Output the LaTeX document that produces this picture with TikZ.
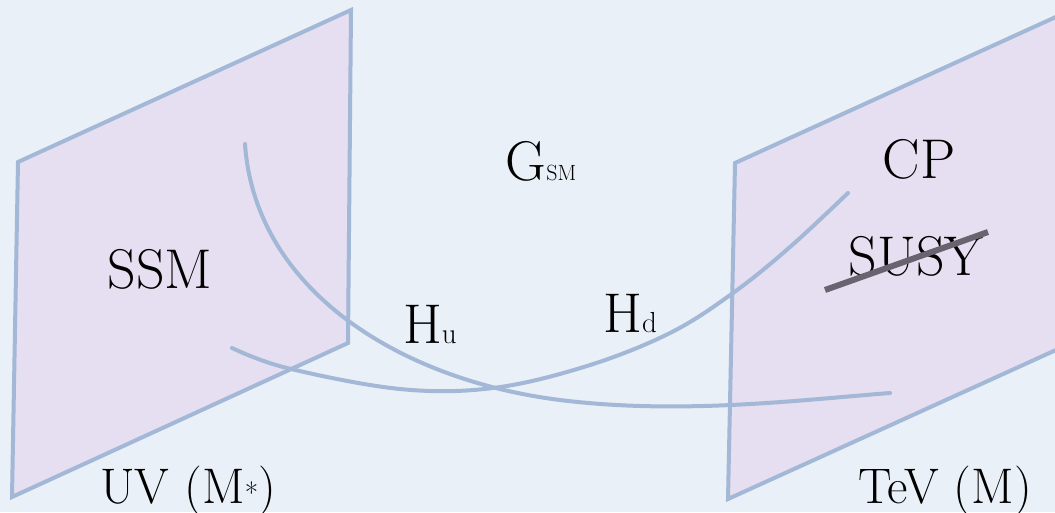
\documentclass[tikz,border=0pt]{standalone}
\usepackage{xcolor}
\usepackage{tikz}
\usetikzlibrary{positioning}

\definecolor{paper}{RGB}{234,240,247}
\definecolor{branefill}{RGB}{230,223,241}
\definecolor{braneline}{RGB}{163,183,214}
\definecolor{strikegray}{RGB}{104,99,110}

\newcommand{\sublabel}[1]{{\fontsize{29}{31}\selectfont #1}}

\begin{document}
\begin{tikzpicture}[
    x=1pt, y=-1pt,
    brane/.style={draw=braneline, fill=branefill, line width=4pt, line join=miter},
    higgs/.style={draw=braneline, line width=4pt, line cap=round},
    strikeout/.style={draw=strikegray, line width=6pt},
    lbl/.style={inner sep=0pt, anchor=base, font=\fontsize{56}{62}\selectfont},
    foot/.style={inner sep=0pt, anchor=base, font=\fontsize{50}{56}\selectfont}
]
    % Frame and paper
    \useasboundingbox (0,0) rectangle (1055,512);
    \clip (0,0) rectangle (1055,512);
    \fill[paper] (0,0) rectangle (1055,512);

    % Branes: UV on the left, TeV on the right
    \draw[brane] (18,162) -- (351,10) -- (348,343) -- (12,497) -- cycle;
    \draw[brane] (735,163) -- (1069,11) -- (1067,345) -- (728,499) -- cycle;

    % Higgs strings between the branes
    \draw[higgs] (245,144) .. controls (255,290) and (400,380) .. (560,400)
                 .. controls (680,415) and (800,400) .. (890,393);
    \draw[higgs] plot[smooth, tension=0.6] coordinates {(232,348) (287,368) (400,389) (493,388) (587,366) (670,333) (733,293) (790,247) (848,193)};

    % Labels
    \node[lbl] (ssm) at (160,288) {SSM};
    \node[foot] (uv) at (188,503) {UV (M\sublabel{*})};
    \node[lbl] (gsm) at (541,180) {G{\fontsize{22}{24}\selectfont SM}};
    \node[lbl] (hu) at (430,343) {H\sublabel{u}};
    \node[lbl] (hd) at (630,332) {H\sublabel{d}};
    \node[lbl] (cp) at (919,178) {CP};
    \node[lbl] (susy) at (916,275) {SUSY};
    \node[foot] (tev) at (945,503) {TeV (M)};

    % Broken SUSY
    \draw[strikeout] (825,290) -- (988,232);

\end{tikzpicture}
\end{document}
